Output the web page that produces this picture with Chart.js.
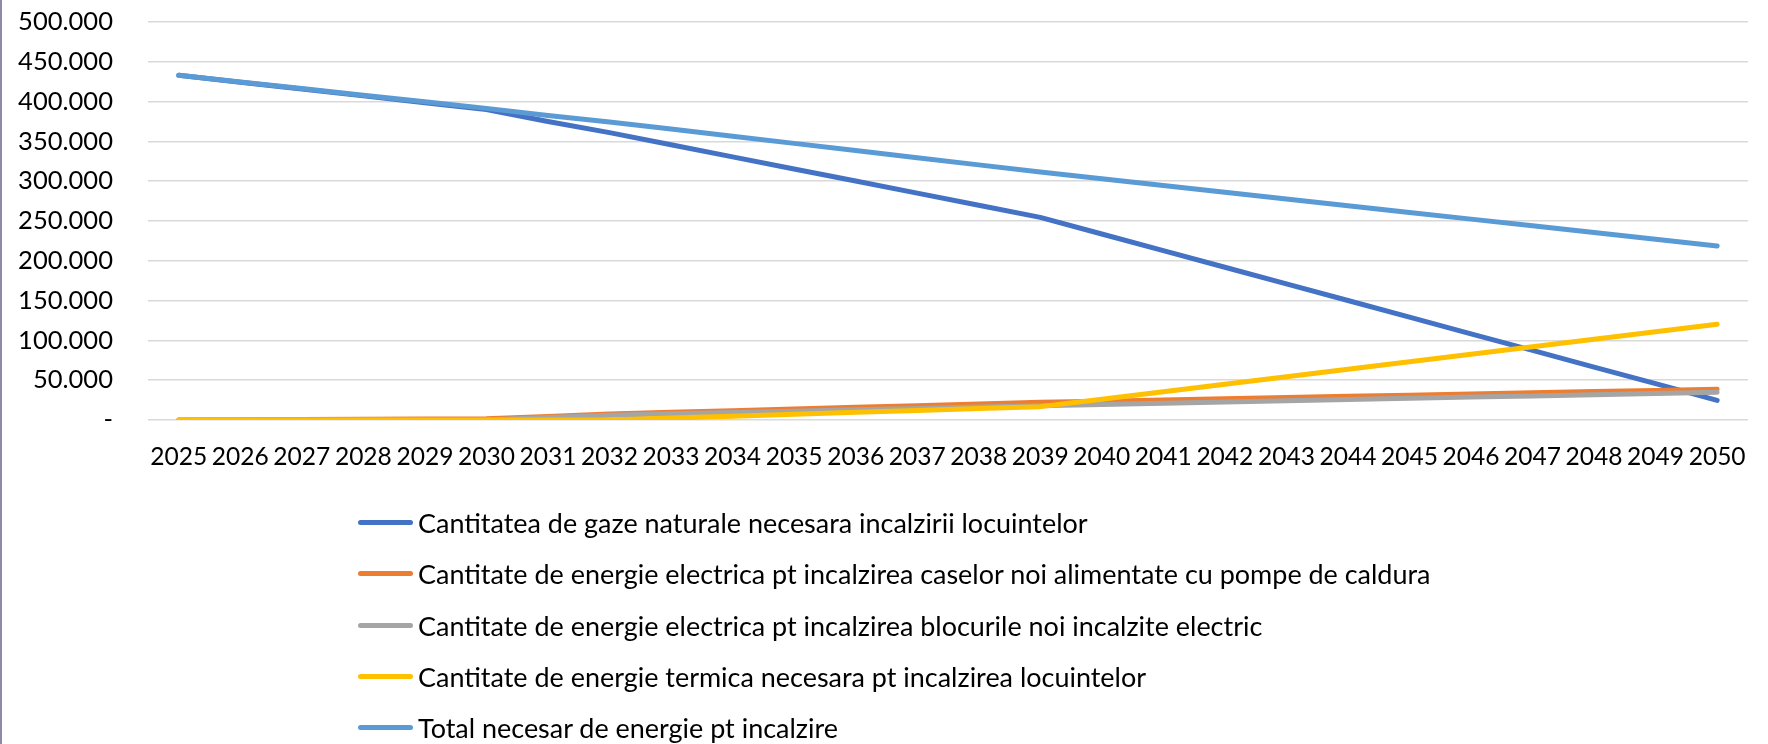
<!DOCTYPE html>
<html>
<head>
<meta charset="utf-8">
<script src="https://cdn.jsdelivr.net/npm/chart.js@4.4.1/dist/chart.umd.min.js"></script>
<style>
    html, body { margin: 0; padding: 0; background: #fff; }
    #wrap { position: relative; width: 1768px; height: 744px; overflow: hidden; }
    #frame { position: absolute; left: 0; top: 0; width: 2px; height: 744px; background: #8f8aa8; }
    #box { position: absolute; left: 0; top: 0; width: 1768px; height: 500px; }
    #legend { position: absolute; left: 358px; top: 497px; font-family: Lato, sans-serif; color: #000; }
    .item { display: flex; align-items: center; height: 51.3px; white-space: nowrap; }
    .swatch { width: 55px; height: 5px; border-radius: 3px; margin-right: 5px; }
</style>
</head>
<body>
<div id="wrap">
    <div id="box"><canvas id="chart"></canvas></div>
    <div id="legend"></div>
    <div id="frame"></div>
</div>
<script>
// Data
const years = ['2025', '2026', '2027', '2028', '2029', '2030', '2031', '2032', '2033', '2034', '2035', '2036', '2037',
    '2038', '2039', '2040', '2041', '2042', '2043', '2044', '2045', '2046', '2047', '2048', '2049', '2050'];

const gazeNaturale = [433000, 424400, 415800, 407200, 398600, 390000, 375000, 361000, 345800, 330600, 315400, 300200, 285000,
    269800, 254600, 233700, 212800, 191900, 171000, 150100, 129200, 108300, 87400, 66500, 45600, 24700];

const electricaCase = [0, 300, 600, 900, 1200, 1500, 4500, 7500, 9600, 11700, 13800, 15900, 18000,
    20100, 22200, 23700, 25200, 26700, 28200, 29700, 31200, 32700, 34200, 35700, 37200, 38700];

const electricaBlocuri = [0, 0, 0, 0, 0, 0, 3000, 6000, 7700, 9400, 11100, 12800, 14500,
    16200, 17900, 19450, 21000, 22550, 24100, 25650, 27200, 28750, 30300, 31850, 33400, 34950];

const termica = [0, 0, 0, 0, 0, 0, 0, 0, 2400, 4800, 7200, 9600, 12000,
    14400, 16800, 26200, 35600, 45000, 54400, 63800, 73200, 82600, 92000, 101400, 110800, 120200];

const totalNecesar = [433000, 424700, 416400, 408100, 399800, 391500, 382500, 374500, 365500, 356500, 347500, 338500, 329500,
    320500, 311500, 303050, 294600, 286150, 277700, 269250, 260800, 252350, 243900, 235450, 227000, 218550];

const yTicks = [0, 50000, 100000, 150000, 200000, 250000, 300000, 350000, 400000, 450000, 500000];

const seriesNames = [
    'Cantitatea de gaze naturale necesara incalzirii locuintelor',
    'Cantitate de energie electrica pt incalzirea caselor noi alimentate cu pompe de caldura',
    'Cantitate de energie electrica pt incalzirea blocurile noi incalzite electric',
    'Cantitate de energie termica necesara pt incalzirea locuintelor',
    'Total necesar de energie pt incalzire'
];

// Excel-like number format: 500.000 and "-" for zero
function formatNumber(v) {
    if (v === 0) return '-';
    return String(v).replace(/\B(?=(\d{3})+(?!\d))/g, '.');
}

// Pick a font size so that a text gets the width it has in the original (Calibri is narrow)
const measureCtx = document.createElement('canvas').getContext('2d');
function fitFont(text, width) {
    measureCtx.font = '100px Lato';
    return 100 * width / measureCtx.measureText(text).width;
}

const yFont = fitFont('500.000', 95);
const xFont = fitFont('2025', 57);
const legendFont = fitFont(seriesNames[0], 670);

// plot area: 0 line at y=420, year labels centred at y=457
// (Chart.js counts the tick padding twice in the axis height)
const boxHeight = 500;
const plotBottom = 420;
const xPad = 457 - plotBottom - xFont * 0.6;
const xAxisHeight = xFont * 1.2 + 2 * xPad;
const bottomPad = boxHeight - plotBottom - xAxisHeight;

function makeLine(label, data, color, order) {
    return {
        label: label,
        data: data,
        borderColor: color,
        backgroundColor: color,
        borderWidth: 5,
        borderCapStyle: 'round',
        borderJoinStyle: 'round',
        pointRadius: 0,
        tension: 0,
        order: order
    };
}

const ctx = document.getElementById('chart').getContext('2d');
const chart = new Chart(ctx, {
    type: 'line',
    data: {
        labels: years,
        datasets: [
            makeLine(seriesNames[0], gazeNaturale, '#4472C4', 5),
            makeLine(seriesNames[1], electricaCase, '#ED7D31', 4),
            makeLine(seriesNames[2], electricaBlocuri, '#A5A5A5', 3),
            makeLine(seriesNames[3], termica, '#FFC000', 2),
            makeLine(seriesNames[4], totalNecesar, '#5B9BD5', 1)
        ]
    },
    options: {
        responsive: true,
        maintainAspectRatio: false,
        animation: false,
        layout: {
            padding: { top: 22, right: 7, left: 0, bottom: bottomPad }
        },
        plugins: {
            legend: { display: false },
            tooltip: { enabled: false }
        },
        scales: {
            x: {
                offset: true,
                grid: { display: false, drawTicks: false },
                border: { display: false },
                ticks: {
                    color: '#000',
                    font: { family: 'Lato', size: xFont },
                    autoSkip: false,
                    maxRotation: 0,
                    padding: xPad
                }
            },
            y: {
                min: 0,
                max: 500000,
                afterBuildTicks: scale => {
                    scale.ticks = yTicks.map(v => ({ value: v }));
                },
                afterFit: scale => {
                    scale.width = 148;
                },
                grid: {
                    color: '#d9d9d9',
                    lineWidth: 1.5,
                    drawTicks: true,
                    tickLength: 31,
                    tickColor: 'rgba(0,0,0,0)'
                },
                border: { display: false },
                ticks: {
                    color: '#000',
                    font: { family: 'Lato', size: yFont },
                    padding: 4,
                    callback: v => formatNumber(v)
                }
            }
        }
    }
});

// Legend as a vertical list under the chart
const legendBox = document.getElementById('legend');
legendBox.style.fontSize = legendFont + 'px';
chart.data.datasets.forEach(ds => {
    const item = document.createElement('div');
    item.className = 'item';
    const swatch = document.createElement('span');
    swatch.className = 'swatch';
    swatch.style.background = ds.borderColor;
    const text = document.createElement('span');
    text.textContent = ds.label;
    item.appendChild(swatch);
    item.appendChild(text);
    legendBox.appendChild(item);
});
</script>
</body>
</html>
